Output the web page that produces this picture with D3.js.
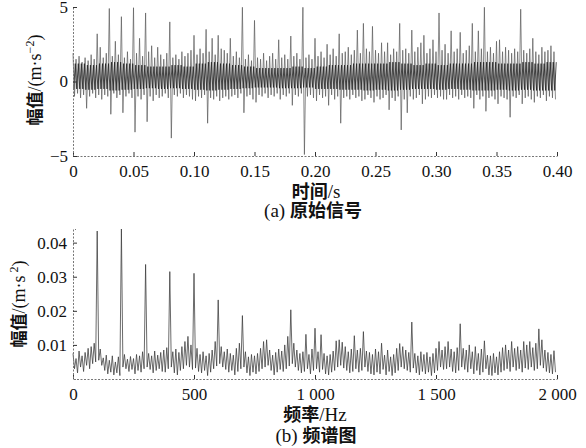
<!DOCTYPE html>
<html><head><meta charset="utf-8">
<script src="https://cdn.jsdelivr.net/npm/d3@7"></script>
<style>
html,body{margin:0;padding:0;background:#fff;}
svg{display:block;}
.serif{font-family:"Liberation Serif","DejaVu Serif","Times New Roman",serif;}
.cjk{font-family:"Noto Sans CJK SC","Noto Sans",sans-serif;font-weight:700;}
</style></head>
<body>
<svg id="chart" width="586" height="448"></svg>
<script>
// ---------- Data ----------
// (a) time signal: per-bin upper / lower extremes, bin width 0.0025 s (160 bins)
const timeBinWidth = 0.0025;
const ampHigh = [
 1.9,1.5,1.7,1.3,1.6,1.4,1.8,1.5,3.2,2.3,
 1.6,1.9,4.9,1.7,2.7,1.8,4.35,1.6,2.0,1.5,
 4.95,1.9,2.9,1.7,4.6,2.0,2.4,1.6,2.3,1.8,
 1.5,1.9,4.0,1.6,1.8,1.5,2.0,1.7,1.9,2.1,
 3.1,1.8,2.2,1.9,3.5,2.0,2.9,1.8,3.1,2.2,
 2.1,1.9,2.9,1.7,2.0,1.6,4.98,1.5,1.8,1.4,
 4.1,1.6,1.5,1.9,1.4,1.7,1.9,1.5,2.8,1.6,
 1.8,1.5,3.05,1.7,1.9,1.5,4.98,1.6,1.8,1.5,
 2.9,1.7,2.0,1.6,2.5,1.8,2.2,1.7,3.2,1.9,
 2.0,2.3,1.8,2.1,3.45,1.9,3.9,2.2,2.0,3.7,
 2.1,1.9,2.6,2.0,2.6,1.8,2.2,2.0,3.9,2.1,
 2.2,1.9,3.45,2.0,2.3,2.6,3.1,1.9,2.2,2.8,
 2.0,4.6,2.1,2.5,1.9,3.4,2.0,2.2,3.3,1.9,
 2.1,2.4,3.9,2.0,3.4,2.2,4.98,2.0,2.3,1.9,
 2.7,2.8,2.0,2.3,2.1,1.9,2.2,2.0,4.85,2.1,
 1.9,2.2,2.9,2.0,1.8,2.3,2.0,2.1,2.4,2.0
];
const ampLow = [
 -1.0,-0.8,-1.1,-0.9,-1.8,-1.0,-0.8,-1.1,-0.9,-1.2,
 -0.9,-1.0,-2.2,-0.8,-1.1,-0.9,-2.1,-1.0,-0.8,-1.1,
 -3.4,-1.0,-1.2,-0.9,-2.7,-1.0,-1.3,-0.9,-1.1,-1.0,
 -0.8,-1.1,-3.8,-0.9,-1.0,-0.8,-1.1,-0.9,-1.0,-1.2,
 -1.3,-1.0,-1.1,-0.9,-2.8,-1.1,-1.2,-1.0,-1.3,-1.1,
 -1.0,-1.2,-1.0,-0.9,-1.1,-0.8,-2.1,-1.0,-0.9,-1.2,
 -1.4,-0.9,-1.0,-0.8,-1.1,-0.9,-1.0,-0.8,-1.2,-0.9,
 -1.0,-0.8,-1.6,-0.9,-1.0,-0.8,-4.9,-1.0,-0.9,-1.1,
 -1.3,-0.9,-1.1,-1.0,-1.6,-0.9,-1.2,-1.0,-2.8,-1.1,
 -1.0,-1.2,-0.9,-1.1,-1.0,-1.3,-1.2,-0.9,-1.1,-1.4,
 -1.0,-1.2,-1.1,-0.9,-1.9,-1.1,-1.3,-1.0,-3.25,-1.2,
 -2.1,-1.0,-1.2,-1.1,-0.9,-1.5,-1.2,-1.0,-1.1,-0.9,
 -1.1,-1.0,-1.2,-1.2,-0.9,-1.1,-1.0,-1.2,-0.9,-1.1,
 -1.0,-1.1,-1.8,-0.9,-1.2,-1.0,-2.0,-1.1,-1.0,-1.2,
 -1.5,-1.0,-1.1,-1.2,-2.4,-1.0,-1.1,-0.9,-1.5,-1.1,
 -1.0,-1.2,-1.4,-1.0,-1.1,-0.9,-1.3,-1.0,-1.1,-1.2
];
// dense core band of the signal, per 0.01 s (40 values)
const coreHigh = [1.2,1.1,1.2,1.3,1.2,1.1,1.0,1.0,1.1,1.0, 1.2,1.3,1.2,1.1,1.0,0.9,0.9,0.9,1.0,0.9,
                  1.0,1.1,1.1,1.2,1.2,1.2,1.3,1.2,1.1,1.2, 1.1,1.2,1.2,1.3,1.3,1.2,1.2,1.3,1.2,1.3];
const coreLow  = [-0.5,-0.55,-0.5,-0.6,-0.55,-0.5,-0.45,-0.5,-0.45,-0.5, -0.55,-0.6,-0.55,-0.5,-0.45,-0.4,-0.4,-0.45,-0.45,-0.4,
                  -0.5,-0.5,-0.55,-0.55,-0.6,-0.55,-0.6,-0.55,-0.5,-0.5, -0.55,-0.5,-0.55,-0.6,-0.6,-0.55,-0.6,-0.55,-0.6,-0.6];
const timeTicks = [0,0.05,0.10,0.15,0.20,0.25,0.30,0.35,0.40];
const timeTickLabels = ["0","0.05","0.10","0.15","0.20","0.25","0.30","0.35","0.40"];
const ampTicks = [-5,0,5];
const ampTickLabels = ["\u22125","0","5"];

// (b) spectrum: per-bin upper / lower values, bin width 12.5 Hz (160 bins)
const freqBinWidth = 12.5;
const specHigh = [
 0.0075,0.0060,0.0082,0.0068,0.0078,0.0090,0.0095,0.0105,0.0434,0.0088,
 0.0062,0.0070,0.0055,0.0068,0.0050,0.0065,0.0440,0.0072,0.0058,0.0066,
 0.0060,0.0072,0.0068,0.0080,0.0336,0.0075,0.0068,0.0082,0.0070,0.0078,
 0.0085,0.0092,0.0315,0.0080,0.0088,0.0078,0.0095,0.0110,0.0125,0.0100,
 0.0310,0.0090,0.0072,0.0080,0.0068,0.0075,0.0085,0.0110,0.0232,0.0095,
 0.0080,0.0088,0.0075,0.0070,0.0090,0.0105,0.0186,0.0080,0.0065,0.0072,
 0.0068,0.0075,0.0090,0.0110,0.0115,0.0085,0.0070,0.0078,0.0088,0.0082,
 0.0100,0.0125,0.0203,0.0105,0.0085,0.0075,0.0080,0.0131,0.0072,0.0088,
 0.0149,0.0080,0.0130,0.0075,0.0068,0.0072,0.0082,0.0112,0.0115,0.0108,
 0.0095,0.0080,0.0088,0.0127,0.0085,0.0090,0.0139,0.0082,0.0078,0.0072,
 0.0088,0.0080,0.0105,0.0070,0.0085,0.0065,0.0072,0.0090,0.0104,0.0095,
 0.0085,0.0078,0.0167,0.0075,0.0068,0.0080,0.0072,0.0078,0.0065,0.0075,
 0.0090,0.0110,0.0085,0.0095,0.0110,0.0088,0.0080,0.0092,0.0162,0.0090,
 0.0085,0.0100,0.0080,0.0095,0.0075,0.0088,0.0112,0.0070,0.0068,0.0075,
 0.0065,0.0080,0.0092,0.0100,0.0085,0.0110,0.0090,0.0095,0.0085,0.0110,
 0.0100,0.0110,0.0092,0.0105,0.0147,0.0115,0.0085,0.0078,0.0072,0.0083
];
const specLow = [
 0.0030,0.0018,0.0035,0.0022,0.0040,0.0030,0.0045,0.0050,0.0055,0.0040,
 0.0025,0.0015,0.0020,0.0012,0.0018,0.0010,0.0035,0.0030,0.0022,0.0028,
 0.0015,0.0025,0.0020,0.0030,0.0035,0.0028,0.0018,0.0025,0.0030,0.0022,
 0.0020,0.0030,0.0035,0.0018,0.0012,0.0025,0.0030,0.0040,0.0035,0.0028,
 0.0032,0.0022,0.0018,0.0025,0.0010,0.0020,0.0030,0.0038,0.0045,0.0035,
 0.0028,0.0020,0.0025,0.0012,0.0022,0.0030,0.0035,0.0018,0.0010,0.0020,
 0.0015,0.0022,0.0030,0.0035,0.0040,0.0025,0.0012,0.0020,0.0028,0.0022,
 0.0030,0.0038,0.0045,0.0035,0.0025,0.0018,0.0022,0.0030,0.0015,0.0025,
 0.0030,0.0020,0.0028,0.0015,0.0012,0.0020,0.0025,0.0035,0.0040,0.0032,
 0.0025,0.0018,0.0022,0.0030,0.0020,0.0025,0.0035,0.0022,0.0015,0.0012,
 0.0020,0.0015,0.0028,0.0012,0.0022,0.0010,0.0018,0.0025,0.0035,0.0030,
 0.0025,0.0020,0.0032,0.0018,0.0012,0.0022,0.0015,0.0020,0.0010,0.0018,
 0.0025,0.0035,0.0028,0.0030,0.0035,0.0022,0.0018,0.0025,0.0035,0.0028,
 0.0020,0.0030,0.0015,0.0025,0.0012,0.0020,0.0030,0.0012,0.0010,0.0018,
 0.0012,0.0020,0.0025,0.0030,0.0022,0.0035,0.0025,0.0030,0.0020,0.0032,
 0.0028,0.0035,0.0025,0.0030,0.0040,0.0032,0.0022,0.0018,0.0015,0.0020
];
const freqTicks = [0,500,1000,1500,2000];
const freqTickLabels = ["0","500","1 000","1 500","2 000"];
const specTicks = [0.01,0.02,0.03,0.04];
const specTickLabels = ["0.01","0.02","0.03","0.04"];

// ---------- Drawing ----------
const svg = d3.select("#chart");
const SERIF = '"Liberation Serif","DejaVu Serif","Times New Roman",serif';

function styleAxis(g){
  g.attr("font-family", SERIF).attr("font-size", 17);
  g.select(".domain").attr("stroke","#777").attr("stroke-width",1).attr("stroke-dasharray","2,1.5");
  g.selectAll(".tick line").attr("stroke","#333").attr("stroke-width",1);
  g.selectAll(".tick text").attr("class","serif").style("font-size","17px").attr("fill","#111");
}
function label(parent, parts){
  parts.forEach(p=>{
    const t = parent.append("tspan").attr("class", p.cjk ? "cjk" : "serif").text(p.text);
    if(p.size) t.style("font-size", p.size+"px");
    if(p.dy) t.attr("dy", p.dy);
  });
}

// ----- panel (a) -----
const xA = d3.scaleLinear().domain([0,0.4]).range([73,557]);
const yA = d3.scaleLinear().domain([-5,5]).range([156,7]);

// outer envelope: extreme high then extreme low in each bin (lighter grey)
const envPts = [];
ampHigh.forEach((h,i)=>{
  envPts.push({t: i*timeBinWidth, v: h});
  envPts.push({t: (i+0.5)*timeBinWidth, v: ampLow[i]});
});
svg.append("path").datum(envPts)
  .attr("d", d3.line().x(d=>xA(d.t)).y(d=>yA(d.v)))
  .attr("fill","none").attr("stroke","#5a5a5a").attr("stroke-width",0.7).attr("stroke-linejoin","bevel");

// dense core band (darker)
const corePts = [];
ampHigh.forEach((h,i)=>{
  const c = Math.floor(i*coreHigh.length/ampHigh.length);
  corePts.push({t: (i+0.25)*timeBinWidth, v: coreLow[c]});
  corePts.push({t: (i+0.75)*timeBinWidth, v: coreHigh[c]});
});
svg.append("path").datum(corePts)
  .attr("d", d3.line().x(d=>xA(d.t)).y(d=>yA(d.v)))
  .attr("fill","none").attr("stroke","#222").attr("stroke-width",0.8).attr("stroke-linejoin","bevel");

const axAx = svg.append("g").attr("transform","translate(0,156)")
  .call(d3.axisBottom(xA).tickValues(timeTicks).tickFormat((d,i)=>timeTickLabels[i]).tickSizeInner(-4).tickSizeOuter(0).tickPadding(9));
styleAxis(axAx);
const ayA = svg.append("g").attr("transform","translate(73,0)")
  .call(d3.axisLeft(yA).tickValues(ampTicks).tickFormat((d,i)=>ampTickLabels[i]).tickSizeInner(-4).tickSizeOuter(0).tickPadding(5));
styleAxis(ayA);

const ylabA = svg.append("text").attr("transform","translate(41,80) rotate(-90)")
  .attr("text-anchor","middle").style("font-size","18px").attr("fill","#111");
label(ylabA, [{cjk:true,text:"幅值",size:17},{text:"/(m·s"},{text:"\u22122",size:12,dy:-7},{text:")",dy:7}]);

const xlabA = svg.append("text").attr("x",316).attr("y",198).attr("text-anchor","middle").style("font-size","18px").attr("fill","#111");
label(xlabA, [{cjk:true,text:"时间"},{text:"/s",size:19}]);

const capA = svg.append("text").attr("x",313).attr("y",217).attr("text-anchor","middle").style("font-size","18px").attr("fill","#111");
label(capA, [{text:"(a) ",size:19},{cjk:true,text:"原始信号"}]);

// ----- panel (b) -----
const xB = d3.scaleLinear().domain([0,2000]).range([73,557]);
const yB = d3.scaleLinear().domain([0,0.044]).range([379,229]);

const specPts = [];
specHigh.forEach((h,i)=>{
  specPts.push({f: i*freqBinWidth, v: h});
  specPts.push({f: (i+0.5)*freqBinWidth, v: specLow[i]});
});
svg.append("path").datum(specPts)
  .attr("d", d3.line().x(d=>xB(d.f)).y(d=>yB(d.v)))
  .attr("fill","none").attr("stroke","#3a3a3a").attr("stroke-width",0.75).attr("stroke-linejoin","bevel");

const axB = svg.append("g").attr("transform","translate(0,379)")
  .call(d3.axisBottom(xB).tickValues(freqTicks).tickFormat((d,i)=>freqTickLabels[i]).tickSizeInner(-4).tickSizeOuter(0).tickPadding(9));
styleAxis(axB);
const ayB = svg.append("g").attr("transform","translate(73,0)")
  .call(d3.axisLeft(yB).tickValues(specTicks).tickFormat((d,i)=>specTickLabels[i]).tickSizeInner(-4).tickSizeOuter(-3).tickPadding(6));
styleAxis(ayB);

const ylabB = svg.append("text").attr("transform","translate(25,304) rotate(-90)")
  .attr("text-anchor","middle").style("font-size","18px").attr("fill","#111");
label(ylabB, [{cjk:true,text:"幅值",size:17},{text:"/(m·s"},{text:"\u00a02",size:12,dy:-7},{text:")",dy:7}]);

const xlabB = svg.append("text").attr("x",315).attr("y",421).attr("text-anchor","middle").style("font-size","18px").attr("fill","#111");
label(xlabB, [{cjk:true,text:"频率"},{text:"/Hz",size:19}]);

const capB = svg.append("text").attr("x",316).attr("y",442).attr("text-anchor","middle").style("font-size","18px").attr("fill","#111");
label(capB, [{text:"(b) ",size:19},{cjk:true,text:"频谱图"}]);
</script>
</body></html>
